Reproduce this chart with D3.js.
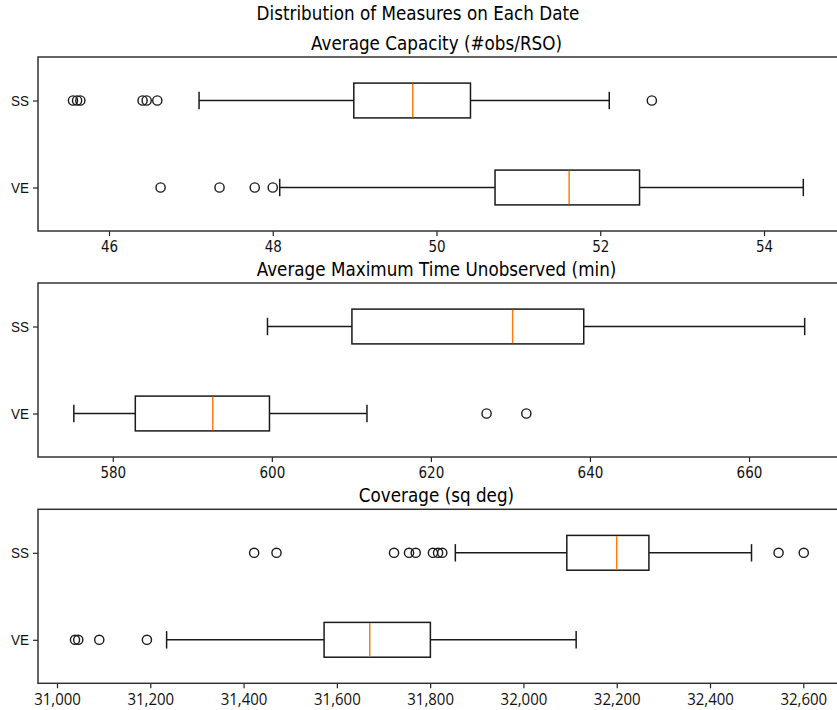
<!DOCTYPE html>
<html>
<head>
<meta charset="utf-8">
<script src="https://cdnjs.cloudflare.com/ajax/libs/d3/7.8.5/d3.min.js"></script>
<style>
body { margin: 0; background: #fff; }
svg { display: block; font-family: "DejaVu Sans", sans-serif; }
</style>
</head>
<body>
<svg id="chart" width="837" height="710"></svg>
<script>
(function () {
	// five-number summaries: [whisker low, q1, median, q3, whisker high]
	const groups = ["VE", "SS"];

	const capacityVE = [48.085, 50.715, 51.62, 52.48, 54.48];
	const capacityVEOut = [46.63, 47.35, 47.78, 48.00];
	const capacitySS = [47.10, 48.99, 49.71, 50.415, 52.11];
	const capacitySSOut = [45.56, 45.61, 45.65, 46.41, 46.46, 46.59, 52.63];
	const capacityTicks = [46, 48, 50, 52, 54];

	const unobsVE = [575.1, 582.83, 592.57, 599.7, 611.96];
	const unobsVEOut = [627.0, 632.0];
	const unobsSS = [599.45, 610.07, 630.28, 639.22, 667.0];
	const unobsSSOut = [];
	const unobsTicks = [580, 600, 620, 640, 660];

	const coverageVE = [31235, 31572.6, 31670.5, 31800.5, 32113];
	const coverageVEOut = [31038.6, 31045.6, 31090.6, 31192.8];
	const coverageSS = [31854, 32093, 32200, 32269, 32489];
	const coverageSSOut = [31422.7, 31470.6, 31722.6, 31754.7, 31769, 31806, 31817, 31826, 32547, 32601];
	const coverageTicks = [31000, 31200, 31400, 31600, 31800, 32000, 32200, 32400, 32600];

	const stretch = "scale(1,1.12)"; // the picture's text is a bit taller than it is wide

	let svg = d3.select("#chart");

	svg.append("text")
		.attr("transform", "translate(418,20) " + stretch)
		.attr("text-anchor", "middle")
		.style("font-size", "16.8px")
		.text("Distribution of Measures on Each Date");

	let panels = [
		{ title: "Average Capacity (#obs/RSO)", top: 57, stats: [capacityVE, capacitySS], out: [capacityVEOut, capacitySSOut],
		  ticks: capacityTicks, dom: [46, 54], rng: [109, 764], fmt: d3.format("d"), font: "DejaVu Sans", fs: 13.5 },
		{ title: "Average Maximum Time Unobserved (min)", top: 283, stats: [unobsVE, unobsSS], out: [unobsVEOut, unobsSSOut],
		  ticks: unobsTicks, dom: [580, 660], rng: [112.8, 749], fmt: d3.format("d"), font: "DejaVu Sans", fs: 13.5 },
		{ title: "Coverage (sq deg)", top: 509.3, stats: [coverageVE, coverageSS], out: [coverageVEOut, coverageSSOut],
		  ticks: coverageTicks, dom: [31000, 32600], rng: [57, 803.3], fmt: d3.format(","), font: "Open Sans", fs: 15 }
	];

	const left = 38, right = 840, h = 174;

	for (let p of panels) {
		let g = svg.append("g");
		let x = d3.scaleLinear().domain(p.dom).range(p.rng);
		let y = d3.scaleLinear().domain([0.5, 2.5]).range([p.top + h, p.top]);
		let bh = y(0.8) - y(1.2);
		let ch = y(0.9) - y(1.1);

		g.append("text")
			.attr("transform", "translate(436.5," + (p.top - 7.5) + ") " + stretch)
			.attr("text-anchor", "middle")
			.style("font-size", "16.8px")
			.text(p.title);

		let xAxis = g.append("g")
			.attr("transform", "translate(0," + (p.top + h) + ")")
			.call(d3.axisBottom(x).tickValues(p.ticks).tickFormat(p.fmt).tickSize(5).tickPadding(4));
		xAxis.select(".domain").remove();
		xAxis.selectAll("line").attr("stroke", "#222").attr("stroke-width", 1.2);
		xAxis.selectAll("text")
			.attr("fill", "#111")
			.attr("transform", stretch)
			.style("font-family", p.font)
			.style("font-size", p.fs + "px");

		let yAxis = g.append("g")
			.attr("transform", "translate(" + left + ",0)")
			.call(d3.axisLeft(y).tickValues([1, 2]).tickFormat(function (d) { return groups[d - 1]; }).tickSize(5).tickPadding(4));
		yAxis.select(".domain").remove();
		yAxis.selectAll("line").attr("stroke", "#222").attr("stroke-width", 1.2);
		yAxis.selectAll("text").attr("fill", "#111").attr("transform", stretch).style("font-size", "13.5px");

		for (let i = 0; i < 2; i++) {
			let s = p.stats[i];
			let cy = y(i + 1);
			let bg = g.append("g").attr("stroke", "#1a1a1a").attr("stroke-width", 1.5).attr("fill", "none");
			// whiskers
			bg.append("line").attr("x1", x(s[0])).attr("x2", x(s[1])).attr("y1", cy).attr("y2", cy);
			bg.append("line").attr("x1", x(s[3])).attr("x2", x(s[4])).attr("y1", cy).attr("y2", cy);
			// caps
			bg.append("line").attr("x1", x(s[0])).attr("x2", x(s[0])).attr("y1", cy - ch / 2).attr("y2", cy + ch / 2);
			bg.append("line").attr("x1", x(s[4])).attr("x2", x(s[4])).attr("y1", cy - ch / 2).attr("y2", cy + ch / 2);
			// box
			bg.append("rect")
				.attr("x", x(s[1])).attr("y", cy - bh / 2)
				.attr("width", x(s[3]) - x(s[1])).attr("height", bh);
			// median
			g.append("line")
				.attr("x1", x(s[2])).attr("x2", x(s[2]))
				.attr("y1", cy - bh / 2 + 0.75).attr("y2", cy + bh / 2 - 0.75)
				.attr("stroke", "#ff7f0e").attr("stroke-width", 1.5);
			// fliers
			g.selectAll(null)
				.data(p.out[i])
				.enter()
				.append("circle")
				.attr("cx", function (d) { return x(d); })
				.attr("cy", cy)
				.attr("r", 4.6)
				.attr("fill", "none")
				.attr("stroke", "#1a1a1a")
				.attr("stroke-width", 1.4);
		}

		g.append("rect")
			.attr("x", left).attr("y", p.top)
			.attr("width", right - left).attr("height", h)
			.attr("fill", "none").attr("stroke", "#333").attr("stroke-width", 1.5);
	}
})();
</script>
</body>
</html>
